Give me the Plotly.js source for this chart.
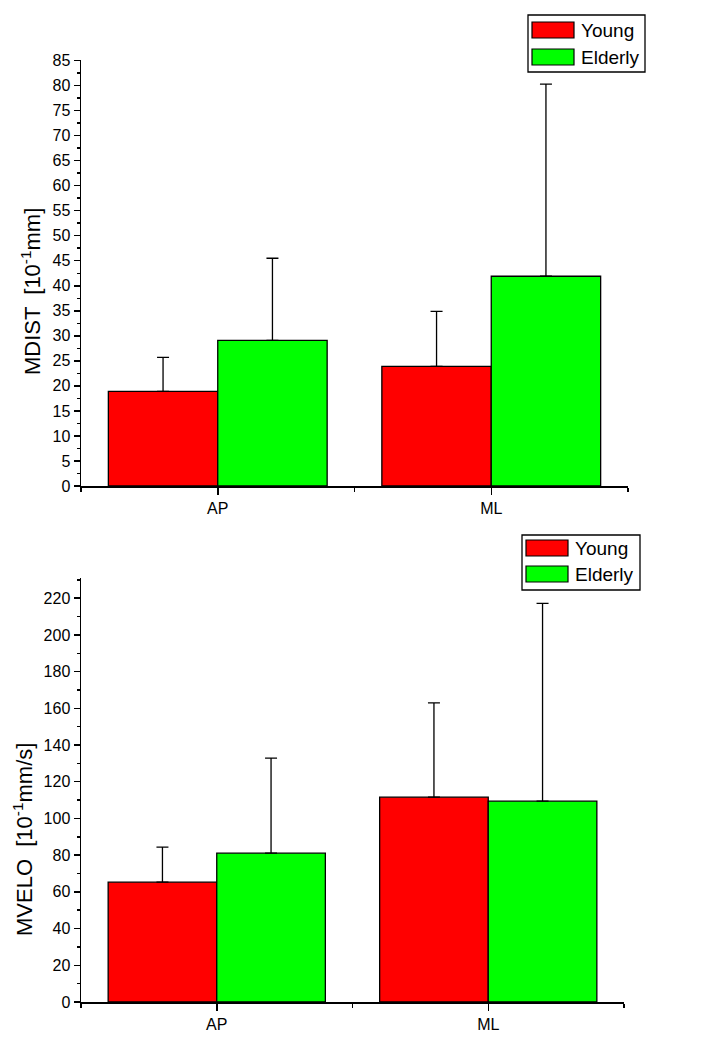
<!DOCTYPE html>
<html>
<head>
<meta charset="utf-8">
<script src="https://cdn.plot.ly/plotly-3.0.1.min.js"></script>
<style>html,body{margin:0;padding:0;background:#fff;}#chart{width:702px;height:1044px;}</style>
</head>
<body>
<div id="chart"></div>
<script>
// ---- data ----
const categories = ['AP', 'ML'];
const groups = ['Young', 'Elderly'];
const mdistYoung = [18.9, 23.9];
const mdistYoungSD = [6.8, 11.0];
const mdistElderly = [29.1, 41.9];
const mdistElderlySD = [16.4, 38.4];
const mveloYoung = [65.3, 111.6];
const mveloYoungSD = [19.1, 51.4];
const mveloElderly = [81.1, 109.4];
const mveloElderlySD = [51.8, 107.8];
const mdistTicks = [0,5,10,15,20,25,30,35,40,45,50,55,60,65,70,75,80,85];
const mveloTicks = [0,20,40,60,80,100,120,140,160,180,200,220];
const mdistTitle = 'MDIST  [10<sup>-1</sup>mm]';
const mveloTitle = 'MVELO  [10<sup>-1</sup>mm/s]';

const colors = {Young: '#ff0000', Elderly: '#00ff00'};
const W = 702, H = 1044;
const X = p => p / W;
const Y = p => 1 - p / H;
const xpos = categories.map((c, i) => i);

function barTrace(name, vals, sd, xa, ya) {
  return {
    type: 'bar', name: name, x: xpos, y: vals, xaxis: xa, yaxis: ya,
    marker: {color: colors[name], line: {color: '#000', width: 1.3}},
    error_y: {type: 'data', symmetric: false, array: sd, arrayminus: sd.map(() => 0),
              color: '#000', thickness: 1.3, width: 6},
    showlegend: false, hoverinfo: 'skip'
  };
}

const data = [
  barTrace('Young', mdistYoung, mdistYoungSD, 'x', 'y'),
  barTrace('Elderly', mdistElderly, mdistElderlySD, 'x', 'y'),
  barTrace('Young', mveloYoung, mveloYoungSD, 'x2', 'y2'),
  barTrace('Elderly', mveloElderly, mveloElderlySD, 'x2', 'y2')
];

const fontFam = 'Arial, Liberation Sans, sans-serif';
function xaxisDef(domain, anchor) {
  return {
    domain: domain, anchor: anchor, range: [-0.5, 1.5], tickvals: xpos, ticktext: categories,
    showline: true, linecolor: '#000', linewidth: 1.5, ticks: 'outside', ticklen: 7, tickwidth: 1.5,
    tickcolor: '#000', showgrid: false, zeroline: false, fixedrange: true,
    tickfont: {family: fontFam, size: 16, color: '#000'},
    minor: {tickvals: [-0.5, 0.5, 1.5], ticks: 'outside', ticklen: 4, tickwidth: 1.5, tickcolor: '#000', showgrid: false}
  };
}
function yaxisDef(domain, anchor, range, ticks, minorStep) {
  return {
    domain: domain, anchor: anchor, range: range, tickmode: 'array', tickvals: ticks, ticktext: ticks.map(String),
    showline: true, linecolor: '#000', linewidth: 1.5, ticks: 'outside', ticklen: 6, tickwidth: 1.5,
    tickcolor: '#000', showgrid: false, zeroline: false, fixedrange: true,
    tickfont: {family: fontFam, size: 16, color: '#000'},
    minor: {dtick: minorStep, tick0: 0, ticks: 'outside', ticklen: 3, tickwidth: 1.5, tickcolor: '#000', showgrid: false}
  };
}

const shapes = [];
const annotations = [];
function legend(x0, y0, x1, y1, rowCenters) {
  shapes.push({type: 'rect', xref: 'paper', yref: 'paper', x0: X(x0), x1: X(x1), y0: Y(y1), y1: Y(y0),
               line: {color: '#000', width: 1.3}, fillcolor: 'rgba(0,0,0,0)'});
  groups.forEach((g, i) => {
    const c = rowCenters[i];
    shapes.push({type: 'rect', xref: 'paper', yref: 'paper', x0: X(x0 + 4), x1: X(x0 + 46),
                 y0: Y(c + 8), y1: Y(c - 8), line: {color: '#000', width: 1.2}, fillcolor: colors[g]});
    annotations.push({xref: 'paper', yref: 'paper', x: X(x0 + 51), y: Y(c), xanchor: 'left', yanchor: 'middle',
                      text: g, showarrow: false, font: {family: fontFam, size: 19, color: '#000'}});
  });
}
legend(528, 15, 645, 72, [30, 57]);
legend(522, 535, 640, 590, [548, 574]);

function yTitle(text, cx, cy) {
  annotations.push({xref: 'paper', yref: 'paper', x: X(cx), y: Y(cy), xanchor: 'center', yanchor: 'middle',
                    textangle: -90, text: text, showarrow: false,
                    font: {family: fontFam, size: 22, color: '#000'}});
}
yTitle(mdistTitle, 31, 292);
yTitle(mveloTitle, 23, 840);

const layout = {
  width: W, height: H, margin: {l: 0, r: 0, t: 0, b: 0},
  paper_bgcolor: '#fff', plot_bgcolor: '#fff',
  font: {family: fontFam, size: 16, color: '#000'},
  barmode: 'group', bargap: 0.2, bargroupgap: 0,
  showlegend: false,
  xaxis: xaxisDef([X(81), X(628)], 'y'),
  yaxis: yaxisDef([Y(486), Y(60)], 'x', [0, 85.1], mdistTicks, 2.5),
  xaxis2: xaxisDef([X(81), X(624)], 'y2'),
  yaxis2: yaxisDef([Y(1002), Y(578)], 'x2', [0, 231], mveloTicks, 10),
  shapes: shapes, annotations: annotations
};

Plotly.newPlot('chart', data, layout, {displayModeBar: false, staticPlot: true});
</script>
</body>
</html>
